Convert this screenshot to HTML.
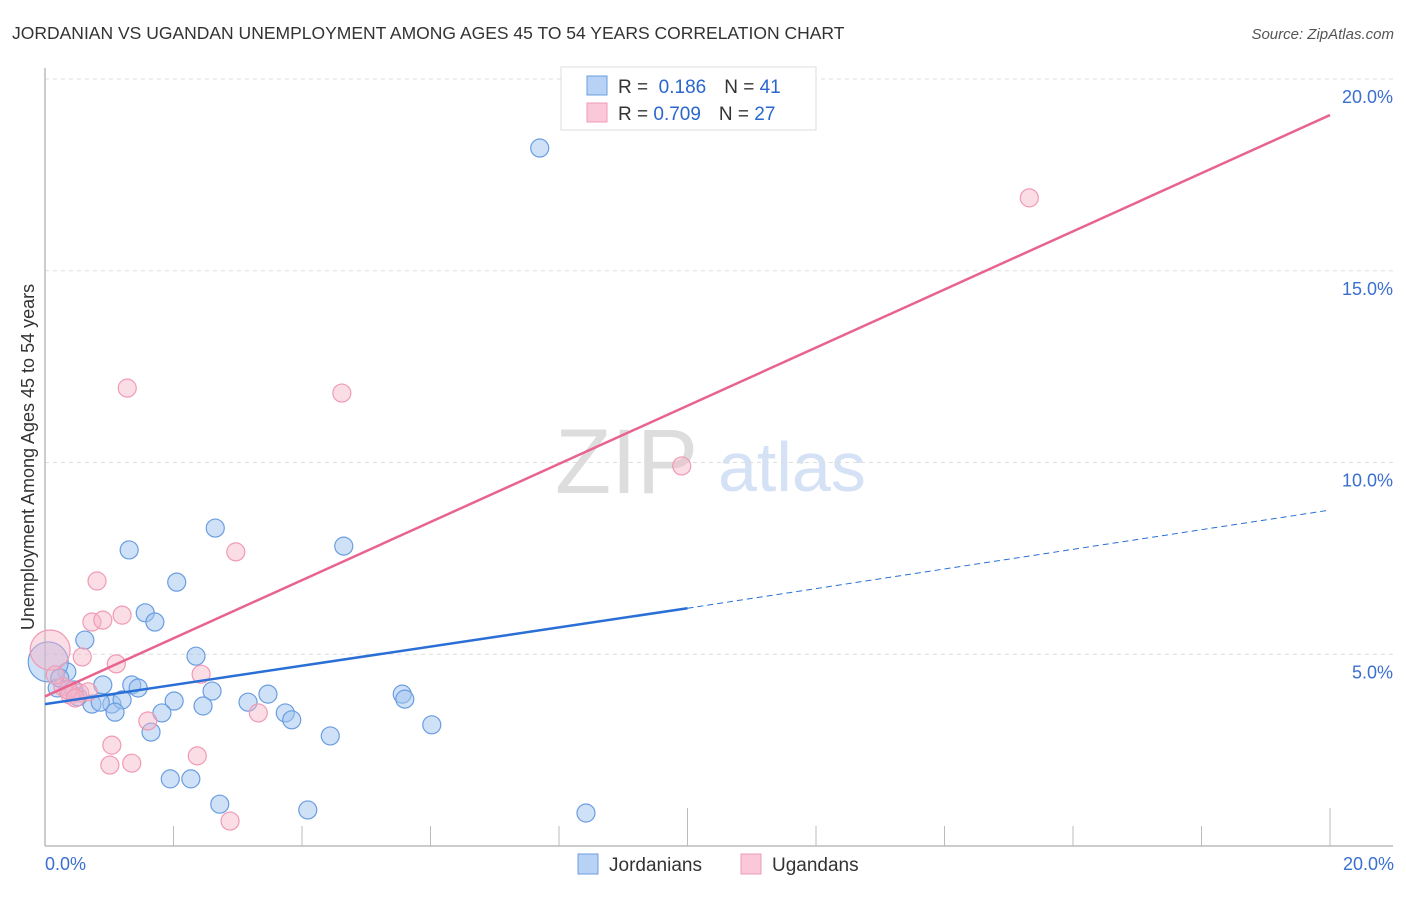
<!DOCTYPE html>
<html><head><meta charset="utf-8"><style>
body{margin:0;background:#fff;font-family:"Liberation Sans",sans-serif;}
svg text{font-family:"Liberation Sans",sans-serif;}
</style></head><body>
<svg width="1406" height="892" viewBox="0 0 1406 892">
<text x="12" y="39" font-size="17.5" fill="#333">JORDANIAN VS UGANDAN UNEMPLOYMENT AMONG AGES 45 TO 54 YEARS CORRELATION CHART</text>
<text x="1394" y="39" font-size="15" fill="#555" text-anchor="end" font-style="italic">Source: ZipAtlas.com</text>
<text x="555" y="493" font-size="92" fill="#ddd" font-family="Liberation Serif">ZIP</text>
<text x="718" y="491" font-size="70" fill="#d5e2f5">atlas</text>
<g id="grid"></g>
<line x1="45" y1="68" x2="45" y2="846" stroke="#bbb" stroke-width="1.5"/>
<line x1="45" y1="846" x2="1393" y2="846" stroke="#bbb" stroke-width="1.5"/>
<g id="xticks"></g>
<text transform="translate(34,457) rotate(-90)" font-size="18" fill="#333" text-anchor="middle">Unemployment Among Ages 45 to 54 years</text>
<text x="45" y="870" font-size="18" fill="#3a6fd0">0.0%</text>
<text x="1394" y="870" font-size="18" fill="#3a6fd0" text-anchor="end">20.0%</text>
<g id="points"></g>
<g id="lines"></g>
<g>
<rect x="561" y="67" width="255" height="63" fill="#fff" stroke="#ddd"/>
<rect x="587" y="76" width="20" height="19" fill="#b8d2f5" stroke="#6a9de0"/>
<rect x="587" y="103" width="20" height="19" fill="#fac8d8" stroke="#f09ab5"/>
<text x="618" y="93" font-size="19" fill="#333">R = <tspan fill="#2a66cc">&#160;0.186</tspan><tspan dx="18">N = </tspan><tspan fill="#2a66cc">41</tspan></text>
<text x="618" y="120" font-size="19" fill="#333">R = <tspan fill="#2a66cc">0.709</tspan><tspan dx="18">N = </tspan><tspan fill="#2a66cc">27</tspan></text>
</g>
<g>
<rect x="578" y="854" width="20" height="20" fill="#b8d2f5" stroke="#6a9de0"/>
<text x="609" y="871" font-size="19" fill="#333">Jordanians</text>
<rect x="741" y="854" width="20" height="20" fill="#fac8d8" stroke="#f09ab5"/>
<text x="772" y="871" font-size="19" fill="#333">Ugandans</text>
</g>
</svg>
<script>
const yTicks=[5,10,15,20];
const xTickVals=[0,2,4,6,8,10,12,14,16,18,20];
const jordX=[7.70,2.65,1.31,4.65,2.05,1.56,1.71,0.62,2.35,0.34,0.19,0.90,1.35,1.45,2.60,2.01,2.46,1.82,3.16,3.47,3.74,3.84,5.56,5.60,6.02,4.44,1.65,1.95,2.27,2.72,4.09,8.42,1.04,0.73,0.86,1.20,1.09,0.51,0.05,0.45,0.23];
const jordY=[18.20,8.29,7.72,7.82,6.88,6.08,5.84,5.37,4.95,4.54,4.12,4.20,4.20,4.12,4.04,3.78,3.65,3.47,3.75,3.96,3.47,3.29,3.96,3.83,3.16,2.87,2.97,1.75,1.75,1.09,0.94,0.86,3.70,3.70,3.75,3.81,3.49,3.89,4.80,4.07,4.38];
const ugX=[15.32,4.62,1.28,9.91,2.97,0.81,1.20,0.73,0.90,0.58,1.11,2.43,1.60,3.32,1.04,1.01,1.35,2.37,2.88,0.08,0.28,0.39,0.54,0.67,0.16,0.36,0.47];
const ugY=[16.90,11.81,11.94,9.91,7.67,6.91,6.02,5.84,5.89,4.93,4.75,4.48,3.26,3.47,2.63,2.11,2.16,2.35,0.65,5.11,4.15,3.94,3.99,4.02,4.46,4.07,3.86];
const jordLine=[3.70,6.20,8.76]; // y at x=0, x=10, x=20
const ugLine=[3.90,19.06]; // y at x=0, x=20
const NS="http://www.w3.org/2000/svg";
const sx=v=>45+v*64.25, sy=v=>846-v*38.35;
function mk(tag,attrs,parent){const e=document.createElementNS(NS,tag);for(const k in attrs)e.setAttribute(k,attrs[k]);parent.appendChild(e);return e;}
const grid=document.getElementById('grid');
yTicks.forEach(t=>{
 const l=mk('line',{x1:45,x2:1393,y1:sy(t),y2:sy(t),stroke:'#ddd','stroke-dasharray':'4,4'},grid);
 
 
 const tx=mk('text',{x:1393,y:sy(t)+24,'font-size':18,fill:'#3a6fd0','text-anchor':'end'},grid);
 tx.textContent=t.toFixed(1)+'%';
 
 
});
const xt=document.getElementById('xticks');
xTickVals.forEach(v=>{
 const tall=(v===10||v===20);
 const l=mk('line',{x1:sx(v),x2:sx(v),y1:tall?808:826,y2:846,stroke:'#bbb'},xt);
 
 
});
const pts=document.getElementById('points');
function dots(xs,ys,fill,stroke,name){
 xs.forEach((x,i)=>{
  const big=(x<0.1);
  const c=mk('circle',{cx:sx(x),cy:sy(ys[i]),r:big?20:9,fill:fill,stroke:stroke,'stroke-width':1.2},pts);
  
  
 });
}
dots(jordX,jordY,'rgba(160,196,240,0.5)','#6a9de0','jordanian-point');
dots(ugX,ugY,'rgba(246,180,200,0.45)','#f09ab5','ugandan-point');
const ln=document.getElementById('lines');
const b1=mk('line',{x1:sx(0),y1:sy(jordLine[0]),x2:sx(10),y2:sy(jordLine[1]),stroke:'#2a6fd6','stroke-width':2.5},ln);


const b2=mk('line',{x1:sx(10),y1:sy(jordLine[1]),x2:sx(20),y2:sy(jordLine[2]),stroke:'#2a6fd6','stroke-width':1,'stroke-dasharray':'6,4'},ln);


const p1=mk('line',{x1:sx(0),y1:sy(ugLine[0]),x2:sx(20),y2:sy(ugLine[1]),stroke:'#e8648f','stroke-width':2.5},ln);


</script>
</body></html>
